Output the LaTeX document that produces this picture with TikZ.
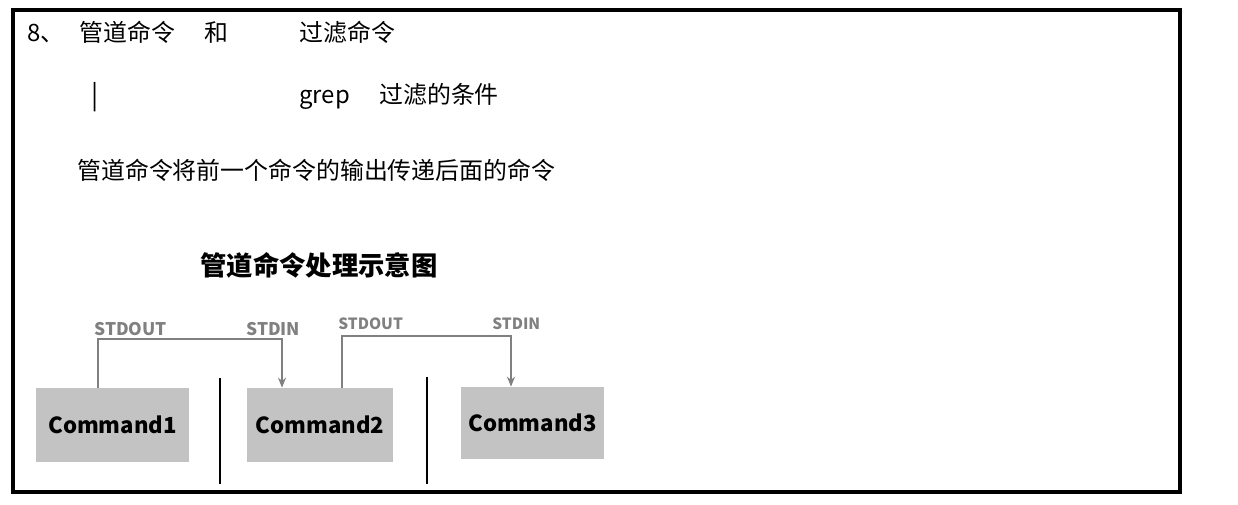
\documentclass[tikz,border=0pt]{standalone}
\usepackage{fontspec}
\setmainfont{Noto Sans CJK SC}
\usepackage{xcolor}
\definecolor{boxgray}{RGB}{195,195,195}
\definecolor{pipegray}{RGB}{128,128,128}
\usepackage{tikz}
\usetikzlibrary{arrows.meta, positioning}
\tikzset{
  txt/.style={
    anchor=base west, inner sep=0pt,
    font=\fontsize{13.6}{16}\selectfont
  },
  heading/.style={
    anchor=base west, inner sep=0pt,
    font=\fontsize{15}{18}\selectfont\bfseries
  },
  stream/.style={
    anchor=base west, inner sep=0pt, text=pipegray,
    font=\fontsize{9.9}{12}\selectfont\bfseries
  },
  cmdbox/.style={
    rectangle, fill=boxgray, draw=none,
    minimum height=1.48cm, inner sep=0pt,
    text centered, font=\fontsize{12.6}{15}\selectfont\bfseries
  },
  pipe/.style={line width=1.2pt, color=pipegray, -{Stealth[length=0.2cm,width=0.16cm]}},
  divider/.style={line width=1.2pt, black},
  frame/.style={line width=2pt, black},
}

\begin{document}
\begin{tikzpicture}[x=0.02cm, y=-0.02cm]
  \useasboundingbox (0,0) rectangle (1238,504);
  \draw [frame] (13,10) rectangle (1180,492);

  \node (num)    [txt] at (27,41)  {8、};
  \node (pipecmd)[txt] at (79,41)  {管道命令};
  \node (and)    [txt] at (204,41) {和};
  \node (filter) [txt] at (299,41) {过滤命令};

  \node (bar)    [txt, font=\fontsize{15}{18}\selectfont] at (91,104) {|};
  \node (grep)   [txt] at (299,103) {grep};
  \node (cond)   [txt] at (379,103) {过滤的条件};

  \node (desc)   [txt] at (77,179) {管道命令将前一个命令的输出传递后面的命令};

  \node (title)  [heading] at (200,275) {管道命令处理示意图};

  \node (cmd1) [cmdbox, minimum width=3.06cm] at (112.5,425) {Command1};
  \node (cmd2) [cmdbox, minimum width=2.92cm] at (320,425)   {Command2};
  \node (cmd3) [cmdbox, minimum width=2.86cm, minimum height=1.44cm] at (532.5,423) {Command3};

  \node (out1) [stream] at (94,335)  {STDOUT};
  \node (in1)  [stream] at (246,335) {STDIN};
  \node (out2) [stream, font=\fontsize{8.8}{11}\selectfont\bfseries] at (338,329) {STDOUT};
  \node (in2)  [stream, font=\fontsize{8.8}{11}\selectfont\bfseries] at (492,329) {STDIN};

  \draw [pipe] ([xshift=-0.29cm]cmd1.north) -- ++(0,-49) -| ([xshift=-0.76cm]cmd2.north);
  \draw [pipe] ([xshift=0.44cm]cmd2.north) -- ++(0,-52) -| ([xshift=-0.43cm]cmd3.north);

  \draw [divider] (220,378) -- (220,484);
  \draw [divider] (427,377) -- (427,484);
\end{tikzpicture}
\end{document}
